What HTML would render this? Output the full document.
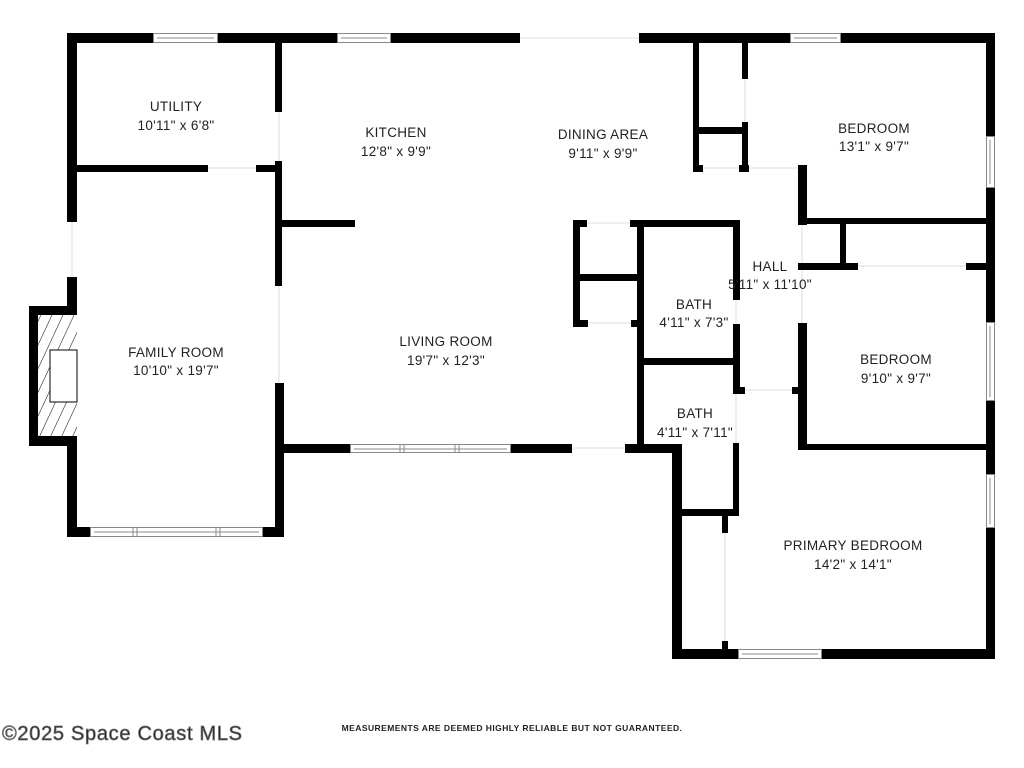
<!DOCTYPE html>
<html><head><meta charset="utf-8"><style>
html,body{margin:0;padding:0;background:#fff;}
svg{display:block}
text{font-family:"Liberation Sans",sans-serif;fill:#222;}
</style></head><body>
<svg width="1024" height="768" viewBox="0 0 1024 768" xmlns="http://www.w3.org/2000/svg">
<defs>
<pattern id="hatch" width="10" height="10" patternUnits="userSpaceOnUse" patternTransform="rotate(25)">
<rect width="10" height="10" fill="#fff"/><line x1="0" y1="0" x2="0" y2="10" stroke="#000" stroke-width="1"/>
</pattern>
</defs>
<g stroke="#ddd" stroke-width="1">
<line x1="520" y1="38" x2="639" y2="38"/>
<line x1="208" y1="168" x2="256" y2="168"/>
<line x1="72" y1="222" x2="72" y2="277"/>
<line x1="279" y1="112" x2="279" y2="161"/>
<line x1="279" y1="286" x2="279" y2="383"/>
<line x1="572" y1="448" x2="625" y2="448"/>
<line x1="699" y1="168" x2="742" y2="168"/>
<line x1="748" y1="168" x2="798" y2="168"/>
<line x1="802" y1="225" x2="802" y2="263"/>
<line x1="802" y1="270" x2="802" y2="323"/>
<line x1="858" y1="266" x2="966" y2="266"/>
<line x1="587" y1="223" x2="630" y2="223"/>
<line x1="588" y1="323" x2="631" y2="323"/>
<line x1="736" y1="300" x2="736" y2="324"/>
<line x1="745" y1="390" x2="792" y2="390"/>
<line x1="736" y1="394" x2="736" y2="443"/>
<line x1="725" y1="533" x2="725" y2="641"/>
<line x1="745" y1="79" x2="745" y2="122"/>
</g>
<g fill="#000">
<rect x="67" y="33" width="453" height="10"/>
<rect x="639" y="33" width="356" height="10"/>
<rect x="67" y="33" width="10" height="189"/>
<rect x="67" y="277" width="10" height="29"/>
<rect x="29" y="306" width="48" height="140"/>
<rect x="67" y="446" width="10" height="91"/>
<rect x="67" y="527" width="217" height="10"/>
<rect x="275" y="43" width="7" height="69"/>
<rect x="275" y="161" width="7" height="125"/>
<rect x="275" y="383" width="9" height="154"/>
<rect x="77" y="165" width="131" height="7"/>
<rect x="256" y="165" width="26" height="7"/>
<rect x="282" y="220" width="73" height="7"/>
<rect x="284" y="444" width="66" height="9"/>
<rect x="510" y="444" width="62" height="9"/>
<rect x="625" y="444" width="57" height="9"/>
<rect x="693" y="43" width="6" height="129"/>
<rect x="742" y="43" width="6" height="36"/>
<rect x="742" y="122" width="6" height="50"/>
<rect x="699" y="127" width="43" height="7"/>
<rect x="693" y="165" width="10" height="7"/>
<rect x="739" y="165" width="10" height="7"/>
<rect x="798" y="165" width="9" height="60"/>
<rect x="798" y="218" width="197" height="6"/>
<rect x="798" y="263" width="60" height="7"/>
<rect x="840" y="224" width="6" height="46"/>
<rect x="966" y="263" width="20" height="7"/>
<rect x="986" y="33" width="9" height="626"/>
<rect x="798" y="323" width="9" height="127"/>
<rect x="798" y="444" width="197" height="6"/>
<rect x="792" y="387" width="15" height="7"/>
<rect x="573" y="220" width="7" height="107"/>
<rect x="573" y="220" width="14" height="7"/>
<rect x="630" y="220" width="110" height="7"/>
<rect x="573" y="320" width="15" height="7"/>
<rect x="631" y="320" width="10" height="7"/>
<rect x="580" y="274" width="58" height="7"/>
<rect x="637" y="220" width="7" height="230"/>
<rect x="733" y="220" width="7" height="80"/>
<rect x="733" y="324" width="7" height="70"/>
<rect x="644" y="358" width="96" height="7"/>
<rect x="733" y="387" width="12" height="7"/>
<rect x="733" y="443" width="6" height="73"/>
<rect x="672" y="509" width="67" height="7"/>
<rect x="672" y="444" width="10" height="215"/>
<rect x="672" y="649" width="323" height="10"/>
<rect x="722" y="516" width="6" height="17"/>
<rect x="722" y="641" width="6" height="8"/>
</g>
<rect x="38" y="315" width="39" height="121" fill="url(#hatch)"/>
<rect x="50" y="350" width="27" height="52" fill="#fff" stroke="#000" stroke-width="1"/>
<g fill="#fff" stroke="#888" stroke-width="1">
<rect x="153.5" y="33.5" width="64" height="9"/><line x1="157" y1="38" x2="214" y2="38"/>
<rect x="337.5" y="33.5" width="53" height="9"/><line x1="341" y1="38" x2="387" y2="38"/>
<rect x="790.5" y="33.5" width="50" height="9"/><line x1="794" y1="38" x2="837" y2="38"/>
<rect x="90.5" y="527.5" width="172" height="9"/><line x1="94" y1="532" x2="259" y2="532"/>
<line x1="133" y1="528" x2="133" y2="536"/><line x1="137" y1="528" x2="137" y2="536"/><line x1="216" y1="528" x2="216" y2="536"/><line x1="220" y1="528" x2="220" y2="536"/>
<rect x="350.5" y="444.5" width="160" height="8"/><line x1="354" y1="449" x2="507" y2="449"/>
<line x1="400" y1="445" x2="400" y2="452"/><line x1="404" y1="445" x2="404" y2="452"/><line x1="455" y1="445" x2="455" y2="452"/><line x1="459" y1="445" x2="459" y2="452"/>
<rect x="986.5" y="136.5" width="8" height="51"/><line x1="990" y1="140" x2="990" y2="184"/>
<rect x="986.5" y="322.5" width="8" height="78"/><line x1="990" y1="326" x2="990" y2="397"/>
<rect x="986.5" y="474.5" width="8" height="53"/><line x1="990" y1="478" x2="990" y2="524"/>
<rect x="738.5" y="649.5" width="83" height="9"/><line x1="742" y1="654" x2="818" y2="654"/>
</g>
<g font-size="13.5" text-anchor="middle" letter-spacing="0.3">
<text x="176" y="111">UTILITY</text><text x="176" y="130">10'11" x 6'8"</text>
<text x="396" y="137">KITCHEN</text><text x="396" y="156">12'8" x 9'9"</text>
<text x="603" y="139">DINING AREA</text><text x="603" y="158">9'11" x 9'9"</text>
<text x="874" y="133">BEDROOM</text><text x="874" y="151">13'1" x 9'7"</text>
<text x="770" y="271">HALL</text><text x="770" y="289">5'11" x 11'10"</text>
<text x="694" y="309">BATH</text><text x="694" y="327">4'11" x 7'3"</text>
<text x="896" y="364">BEDROOM</text><text x="896" y="383">9'10" x 9'7"</text>
<text x="695" y="418">BATH</text><text x="695" y="437">4'11" x 7'11"</text>
<text x="176" y="357">FAMILY ROOM</text><text x="176" y="375">10'10" x 19'7"</text>
<text x="446" y="346">LIVING ROOM</text><text x="446" y="365">19'7" x 12'3"</text>
<text x="853" y="550">PRIMARY BEDROOM</text><text x="853" y="569">14'2" x 14'1"</text>
</g>
<text x="512" y="731" font-size="8.5" font-weight="bold" text-anchor="middle" letter-spacing="0.45">MEASUREMENTS ARE DEEMED HIGHLY RELIABLE BUT NOT GUARANTEED.</text>
<text x="2" y="740" font-size="20" fill="#fff" stroke="#777" stroke-width="0.8" letter-spacing="0.7">©2025 Space Coast MLS</text>
</svg>
</body></html>
